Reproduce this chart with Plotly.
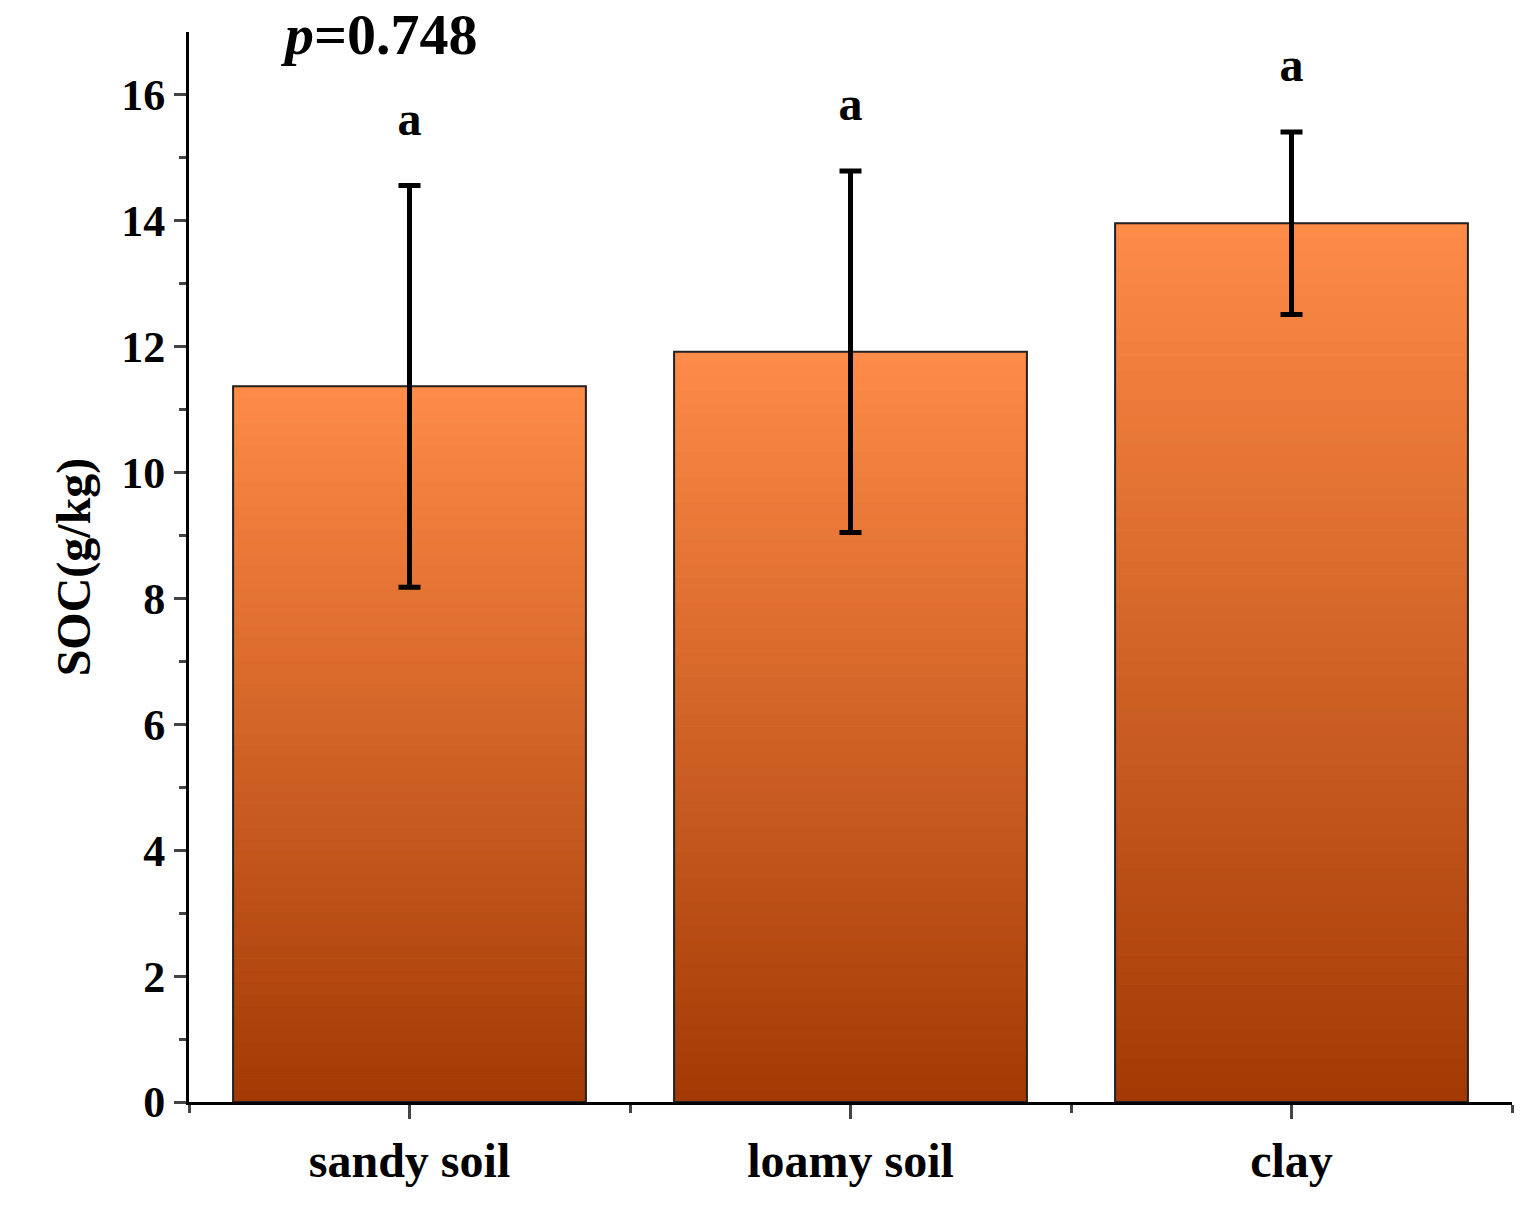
import plotly.graph_objects as go

categories = ["sandy soil", "loamy soil", "clay"]
means = [11.37, 11.92, 13.96]
errors = [3.19, 2.87, 1.45]
letters = ["a", "a", "a"]
p_text = "<i>p</i>=0.748"

N = 60
bot = (163, 58, 5)
top = (255, 140, 72)
fig = go.Figure()
xs = list(range(len(categories)))
for k in range(N):
    t = (k + 0.5) / N
    c = "rgb(%d,%d,%d)" % tuple(int(bot[i] + (top[i] - bot[i]) * t) for i in range(3))
    fig.add_trace(go.Bar(x=xs, y=[m / N for m in means], base=[m * k / N for m in means],
                         width=0.8, marker=dict(color=c, line=dict(width=1, color=c)),
                         showlegend=False, hoverinfo="skip"))
fig.add_trace(go.Bar(x=xs, y=means, width=0.8,
                     marker=dict(color="rgba(0,0,0,0)", line=dict(color="#222", width=2)),
                     error_y=dict(type="data", array=errors, color="black", thickness=5, width=11),
                     showlegend=False))
fig.add_trace(go.Scatter(x=xs, y=[m + e + 1.0 for m, e in zip(means, errors)], mode="text",
                         text=["<b>%s</b>" % l for l in letters],
                         textfont=dict(size=48, color="black", family="Liberation Serif"),
                         showlegend=False))
fig.update_layout(
    barmode="overlay", width=1530, height=1230, plot_bgcolor="white", paper_bgcolor="white",
    margin=dict(l=181, r=26, t=24, b=136),
    font=dict(family="Liberation Serif", color="black"),
    annotations=[dict(x=-0.07, y=1.03, xref="x", yref="paper", text="<b>" + p_text + "</b>", showarrow=False,
                      font=dict(size=58), xanchor="center", yanchor="top")],
)
fig.update_xaxes(range=[-0.5, 2.5], tickvals=xs, ticktext=["<b>%s</b>" % c for c in categories],
                 ticks="outside", ticklen=14, tickwidth=3, showline=True, linewidth=3, linecolor="black",
                 tickfont=dict(size=48), showgrid=False,
                 minor=dict(tickvals=[-0.5, 0.5, 1.5, 2.5], ticks="outside", ticklen=8, tickwidth=3))
fig.update_yaxes(range=[0, 17], tickvals=list(range(0, 17, 2)),
                 ticktext=["<b>%d</b>" % v for v in range(0, 17, 2)],
                 ticks="outside", ticklen=12, tickwidth=3, showline=True, linewidth=3, linecolor="black",
                 tickfont=dict(size=44), showgrid=False, zeroline=False,
                 minor=dict(tickvals=list(range(1, 17, 2)), ticks="outside", ticklen=7, tickwidth=3),
                 title=dict(text="<b>SOC(g/kg)</b>", font=dict(size=48), standoff=16))
fig.write_html("out.html")
